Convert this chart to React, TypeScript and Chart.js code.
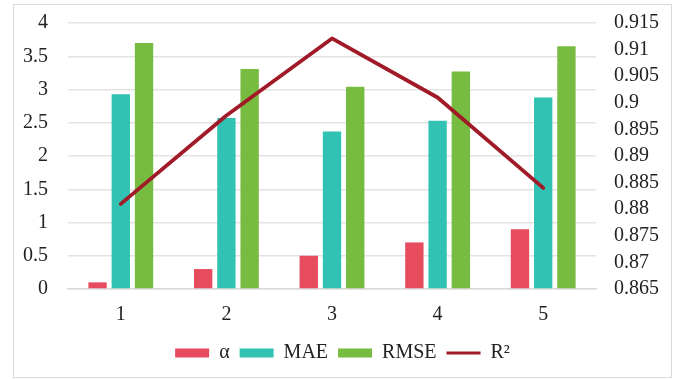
import React, { useEffect, useRef } from "react";
import { Chart, registerables } from "chart.js";

Chart.register(...registerables);

const categories = ["1", "2", "3", "4", "5"];
const alphaValues = [0.1, 0.3, 0.5, 0.7, 0.9];
const maeValues = [2.93, 2.57, 2.37, 2.53, 2.88];
const rmseValues = [3.7, 3.31, 3.04, 3.27, 3.65];
const r2Values = [0.881, 0.8976, 0.9121, 0.901, 0.884];
const seriesNames = ["α", "MAE", "RMSE", "R²"];
const seriesColors = ["#E64C5E", "#31C2B4", "#77BB41", "#A01A28"];

const FONT = "'Liberation Serif', 'Times New Roman', serif";
const FS = 20;

const fmt = (v: any) => parseFloat(Number(v).toFixed(3)).toString();

export default function App() {
  const ref = useRef<HTMLCanvasElement | null>(null);
  useEffect(() => {
    if (!ref.current) return;
    const chart = new Chart(ref.current, {
      type: "bar",
      data: {
        labels: categories,
        datasets: [
          { type: "bar", label: seriesNames[0], data: alphaValues, backgroundColor: seriesColors[0], yAxisID: "y", order: 2 },
          { type: "bar", label: seriesNames[1], data: maeValues, backgroundColor: seriesColors[1], yAxisID: "y", order: 2 },
          { type: "bar", label: seriesNames[2], data: rmseValues, backgroundColor: seriesColors[2], yAxisID: "y", order: 2 },
          {
            type: "line",
            label: seriesNames[3],
            data: r2Values,
            borderColor: seriesColors[3],
            backgroundColor: seriesColors[3],
            borderWidth: 3.8,
            pointRadius: 0,
            tension: 0,
            borderCapStyle: "round",
            borderJoinStyle: "round",
            yAxisID: "y1",
            order: 1,
          } as any,
        ],
      },
      options: {
        animation: false,
        responsive: true,
        maintainAspectRatio: false,
        layout: { padding: { top: 18, bottom: 4, left: 0, right: 0 } },
        datasets: { bar: { categoryPercentage: 0.66, barPercentage: 0.79 } } as any,
        plugins: {
          tooltip: { enabled: false },
          legend: {
            position: "bottom",
            labels: {
              usePointStyle: true,
              pointStyleWidth: 34,
              boxHeight: 9,
              padding: 10,
              color: "#222",
              font: { family: FONT, size: FS },
              generateLabels: (c: any) => {
                const items = Chart.defaults.plugins.legend.labels.generateLabels(c);
                items.sort((a: any, b: any) => a.datasetIndex - b.datasetIndex);
                return items.map((it: any) => {
                  const isLine = it.datasetIndex === 3;
                  const col = seriesColors[it.datasetIndex];
                  return {
                    ...it,
                    pointStyle: isLine ? "line" : "rect",
                    lineWidth: isLine ? 3 : 0,
                    strokeStyle: col,
                    fillStyle: col,
                  };
                });
              },
            },
          },
        },
        scales: {
          x: {
            grid: { display: false, drawTicks: false },
            border: { display: true, color: "#d9d9d9", width: 1.5 },
            ticks: { color: "#222", font: { family: FONT, size: FS }, padding: 14 },
            afterFit: (s: any) => { s.height = 44; },
          },
          y: {
            position: "left",
            min: 0,
            max: 4,
            ticks: {
              stepSize: 0.5,
              color: "#222",
              font: { family: FONT, size: FS },
              padding: 0,
              callback: (v: any) => fmt(v),
            },
            grid: { color: "#e3e3e3", lineWidth: 1.5, drawTicks: true, tickLength: 20, tickColor: "rgba(0,0,0,0)" },
            border: { display: false },
            afterFit: (s: any) => { s.width = 54; },
          },
          y1: {
            position: "right",
            min: 0.865,
            max: 0.915,
            ticks: {
              stepSize: 0.005,
              autoSkip: false,
              color: "#222",
              font: { family: FONT, size: FS },
              padding: 0,
              callback: (v: any) => fmt(v),
            },
            grid: { display: false, drawTicks: true, tickLength: 18 },
            border: { display: false },
            afterFit: (s: any) => { s.width = 75; },
          },
        },
      },
    });
    return () => chart.destroy();
  }, []);

  return (
    <div style={{ position: "absolute", left: 0, top: 0, width: 681, height: 379, background: "#fff" }}>
      <div
        style={{
          position: "absolute",
          left: 13,
          top: 4,
          width: 659,
          height: 374,
          border: "1px solid #d9d9d9",
          boxSizing: "border-box",
        }}
      >
        <div style={{ position: "relative", width: "100%", height: "100%" }}>
          <canvas ref={ref} />
        </div>
      </div>
    </div>
  );
}
